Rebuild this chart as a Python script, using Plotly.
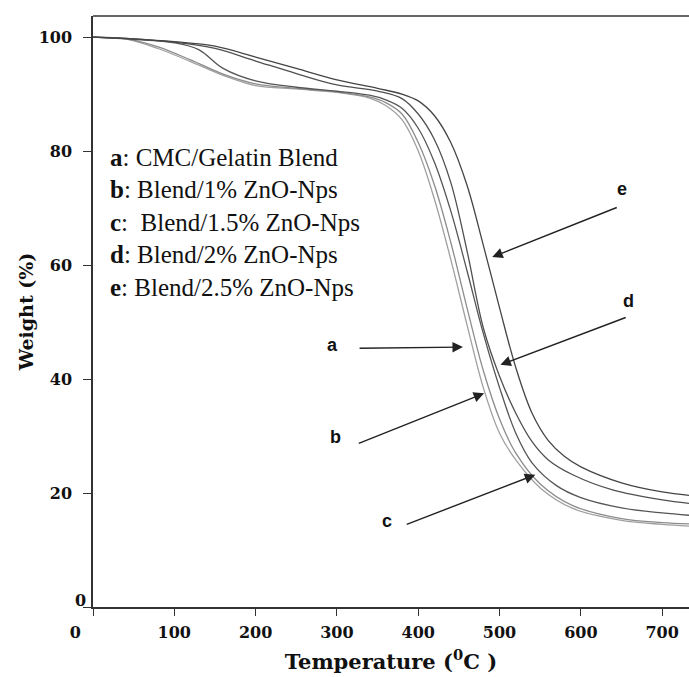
import plotly.graph_objects as go

# Temperature grid (deg C) and weight (%)
temp_a = [0, 40, 80, 120, 160, 200, 250, 300, 340, 360, 380, 400, 420, 440, 460, 480, 500, 520, 550, 590, 650, 700, 733]
wt_a = [100, 99.7, 98.0, 95.7, 93.3, 91.5, 90.9, 90.3, 89.3, 88.0, 85.5, 80.0, 71.5, 61.0, 49.5, 38.5, 30.5, 25.8, 20.9, 17.3, 15.2, 14.5, 14.2]

temp_c = [0, 40, 80, 120, 160, 200, 250, 300, 340, 360, 380, 400, 420, 440, 460, 480, 500, 520, 550, 590, 650, 700, 733]
wt_c = [100, 99.7, 98.3, 96.0, 93.5, 91.8, 91.0, 90.4, 89.5, 88.5, 86.5, 81.5, 74.0, 64.0, 52.5, 41.5, 33.0, 27.0, 21.6, 17.8, 15.5, 14.8, 14.6]

temp_b = [0, 50, 100, 130, 160, 200, 250, 300, 340, 360, 380, 400, 420, 440, 460, 480, 500, 520, 540, 570, 600, 650, 700, 733]
wt_b = [100, 99.6, 99.0, 97.8, 94.5, 92.3, 91.2, 90.5, 89.8, 89.0, 87.5, 84.0, 78.0, 69.5, 59.0, 48.0, 38.5, 30.5, 25.3, 21.3, 19.2, 17.4, 16.5, 16.1]

temp_d = [0, 50, 100, 150, 200, 250, 300, 350, 380, 400, 420, 440, 460, 480, 500, 520, 540, 560, 590, 640, 700, 733]
wt_d = [100, 99.7, 99.1, 98.0, 95.8, 93.6, 91.6, 90.5, 89.2, 86.5, 82.0, 74.5, 62.5, 49.0, 40.5, 34.0, 29.0, 25.8, 23.2, 20.5, 18.8, 18.2]

temp_e = [0, 50, 100, 150, 200, 250, 300, 350, 380, 400, 420, 440, 460, 480, 500, 520, 540, 560, 580, 600, 650, 700, 733]
wt_e = [100, 99.7, 99.2, 98.4, 96.5, 94.5, 92.5, 91.0, 90.0, 88.8, 86.2, 81.5, 74.0, 63.5, 52.5, 42.0, 34.0, 29.2, 26.4, 24.6, 21.8, 20.2, 19.6]

series_names = ["a", "c", "b", "d", "e"]
series_temps = [temp_a, temp_c, temp_b, temp_d, temp_e]
series_wts = [wt_a, wt_c, wt_b, wt_d, wt_e]
series_colors = ["#a0a0a0", "#8c8c8c", "#555555", "#505050", "#454545"]

legend_lines = [
    "<b>a</b>: CMC/Gelatin Blend",
    "<b>b</b>: Blend/1% ZnO-Nps",
    "<b>c</b>:\u00a0 Blend/1.5% ZnO-Nps",
    "<b>d</b>: Blend/2% ZnO-Nps",
    "<b>e</b>: Blend/2.5% ZnO-Nps",
]

x_ticks = [0, 100, 200, 300, 400, 500, 600, 700]
y_ticks = [0, 20, 40, 60, 80, 100]
x_ticktext = ["<b>0</b>" + "\u00a0" * 7] + ["<b>%d</b>" % v for v in x_ticks[1:]]

fig = go.Figure()
for n, t, w, c in zip(series_names, series_temps, series_wts, series_colors):
    fig.add_trace(go.Scatter(x=t, y=w, mode="lines", name=n,
                             line=dict(color=c, width=1.3, shape="spline", smoothing=1.0),
                             showlegend=False))

serif = "Liberation Serif"
tickfont = dict(family="DejaVu Serif", size=16, color="#111111")

fig.update_layout(
    width=689, height=677,
    margin=dict(l=93, r=0, t=16, b=70),
    paper_bgcolor="white", plot_bgcolor="white",
    xaxis=dict(range=[0, 733], tickvals=x_ticks, ticktext=x_ticktext,
               ticks="outside", ticklen=7, tickcolor="#333333", tickwidth=1.3,
               showline=True, linecolor="#333333", linewidth=1.5,
               showgrid=False, zeroline=False, tickfont=tickfont,
               ticklabelstandoff=3,
               title=dict(text="<b>Temperature (<sup>0</sup>C )</b>",
                          font=dict(family="DejaVu Serif", size=21, color="#111111"),
                          standoff=13)),
    yaxis=dict(range=[0, 103.7], tickvals=y_ticks,
               ticktext=["" if v == 0 else "<b>%d</b>" % v for v in y_ticks],
               ticks="outside", ticklen=8, tickcolor="#333333", tickwidth=1.3,
               showline=True, linecolor="#333333", linewidth=1.5,
               showgrid=False, zeroline=False, tickfont=tickfont,
               ticklabelstandoff=8,
               title=dict(text="<b>Weight (%)</b>",
                          font=dict(family="DejaVu Serif", size=19, color="#111111"),
                          standoff=0)),
)

# top frame line
fig.add_shape(type="line", xref="paper", yref="paper", x0=0, x1=1, y0=1, y1=1,
              line=dict(color="#333333", width=1.5))

# y-axis "0" label sits slightly above its tick in the reference
fig.add_annotation(x=0, y=0, xref="paper", yref="paper", xshift=-13, yshift=7,
                   text="<b>0</b>", showarrow=False, font=tickfont,
                   xanchor="center", yanchor="middle")

# legend block text
legend_y = [78.9, 73.2, 67.5, 61.8, 56.1]
for txt, yy in zip(legend_lines, legend_y):
    fig.add_annotation(x=18.5, y=yy, text=txt, showarrow=False, xanchor="left", yanchor="middle",
                       font=dict(family=serif, size=25, color="#111111"))

# arrows with letters
arrow_labels = ["e", "d", "a", "b", "c"]
arrow_head = [(491, 61.4), (501, 42.5), (455, 45.6), (481, 37.5), (544, 23.2)]
arrow_tail = [(646, 70.2), (657, 50.9), (326, 45.4), (325, 28.6), (384, 14.4)]
label_pos = [(651, 73.3), (658, 53.7), (295, 46.0), (298, 29.8), (362, 15.1)]
for lab, hd, tl, lp in zip(arrow_labels, arrow_head, arrow_tail, label_pos):
    fig.add_annotation(x=hd[0], y=hd[1], ax=tl[0], ay=tl[1], axref="x", ayref="y",
                       text="", showarrow=True, arrowhead=2, arrowsize=1.5,
                       arrowwidth=1.4, arrowcolor="#222222", standoff=0)
    fig.add_annotation(x=lp[0], y=lp[1], text="<b>%s</b>" % lab, showarrow=False,
                       font=dict(family="Liberation Sans", size=18, color="#111111"))

fig.write_html("out.html")
